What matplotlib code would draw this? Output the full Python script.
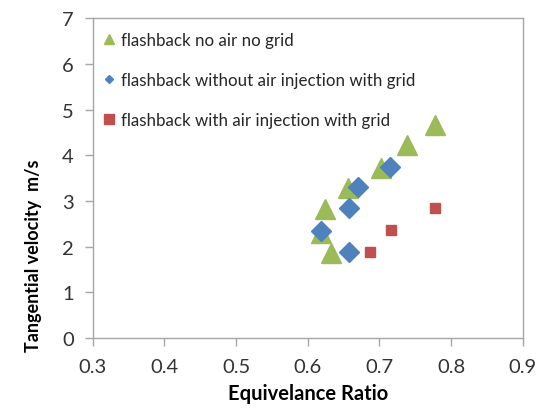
import matplotlib
matplotlib.use("Agg")
import matplotlib.pyplot as plt
from matplotlib.lines import Line2D

# flashback data
no_air_no_grid_x = [0.778, 0.739, 0.702, 0.656, 0.624, 0.619, 0.633]
no_air_no_grid_y = [4.67, 4.22, 3.72, 3.28, 2.82, 2.29, 1.87]

without_air_grid_x = [0.715, 0.670, 0.657, 0.619, 0.657]
without_air_grid_y = [3.75, 3.30, 2.84, 2.35, 1.88]

with_air_grid_x = [0.778, 0.716, 0.687]
with_air_grid_y = [2.84, 2.36, 1.88]

labels = ["flashback no air no grid",
          "flashback without air injection with grid",
          "flashback with air injection with grid"]

green = "#9BBB59"
blue = "#4F81BD"
red = "#C0504D"
frame = "#a6a6a6"

plt.rcParams["font.family"] = ["Lato", "DejaVu Sans"]

fig = plt.figure(figsize=(5.4, 4.1), dpi=100)
ax = fig.add_axes([0.1717, 0.1732, 0.7963, 0.7795])

ax.plot(no_air_no_grid_x, no_air_no_grid_y, linestyle="none", marker="^",
        markersize=14, color=green, markeredgecolor=green)
ax.plot(without_air_grid_x, without_air_grid_y, linestyle="none", marker="D",
        markersize=10, color=blue, markeredgecolor=blue)
ax.plot(with_air_grid_x, with_air_grid_y, linestyle="none", marker="s",
        markersize=7, color=red, markeredgecolor=red)

ax.set_xlim(0.3, 0.9)
ax.set_ylim(0, 7)
ax.set_xticks([0.3, 0.4, 0.5, 0.6, 0.7, 0.8, 0.9])
ax.set_yticks(range(0, 8))
ax.set_xticklabels(["0.3", "0.4", "0.5", "0.6", "0.7", "0.8", "0.9"])

for s in ax.spines.values():
    s.set_color(frame)
    s.set_linewidth(1)
ax.tick_params(direction="out", length=5.5, width=1, color=frame,
               labelsize=14.5, labelcolor="#333333")
ax.tick_params(axis="y", pad=8)
ax.tick_params(axis="x", pad=9)

ax.set_xlabel("Equivelance Ratio", fontsize=14.5, fontweight="bold")
ax.set_ylabel("Tangential velocity  m/s", fontsize=13, fontweight="bold")
# the y title sits low in the original, not centred on the axis
ax.xaxis.set_label_coords(0.5, -0.141)
ax.yaxis.set_label_coords(-0.118, 0.262)

# legend markers are drawn smaller than the plot markers
handles = [
    Line2D([], [], linestyle="none", marker="^", markersize=7, color=green),
    Line2D([], [], linestyle="none", marker="D", markersize=4.5, color=blue),
    Line2D([], [], linestyle="none", marker="s", markersize=7, color=red),
]
ax.legend(handles, labels, loc="upper left", bbox_to_anchor=(-0.01, 1.0),
          frameon=False, fontsize=12.2, labelspacing=1.42, handlelength=0.8,
          handletextpad=0.3, borderaxespad=0.4, labelcolor="#262626")

fig.savefig("out.png", dpi=100)
